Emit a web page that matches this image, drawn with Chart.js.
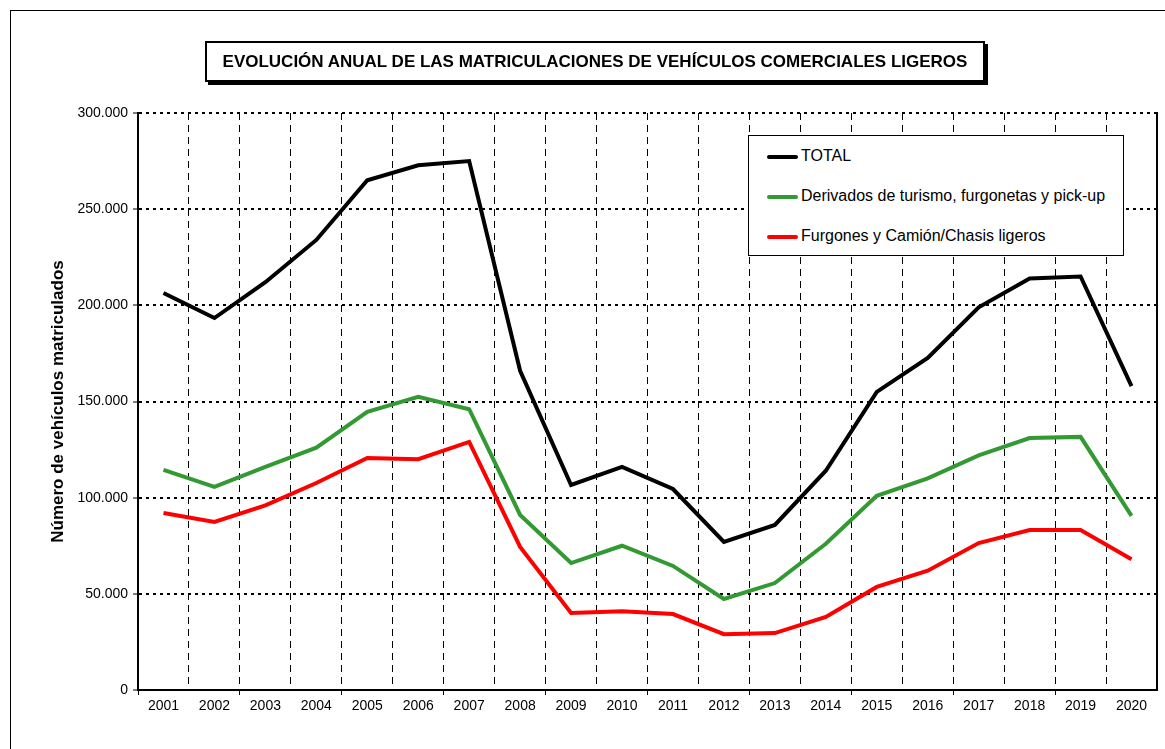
<!DOCTYPE html>
<html>
<head>
<meta charset="utf-8">
<script src="https://cdn.jsdelivr.net/npm/chart.js@4/dist/chart.umd.min.js"></script>
<style>
  body { margin: 0; background: #fff; overflow: hidden; font-family: Arial, "Liberation Sans", sans-serif; }
  #wrap { position: relative; width: 1165px; height: 749px; }
  #frame { position: absolute; left: 10px; top: 10px; width: 1170px; height: 760px; border: 1px solid #000; }
  #chart { position: absolute; left: 0; top: 0; }
  #title {
    position: absolute; left: 205px; top: 41px; width: 776px; height: 37px;
    border: 2px solid #000; box-shadow: 3px 3px 0 #000; background: #fff;
    font-weight: bold; font-size: 17px; line-height: 37px; text-align: center; color: #000;
    white-space: nowrap;
  }
  #legend {
    position: absolute; left: 748px; top: 135px; width: 374px; height: 119px;
    border: 1px solid #000; background: #fff;
  }
  .item { position: absolute; left: 18px; height: 20px; font-size: 16px; line-height: 20px; color: #000; white-space: nowrap; }
  .item span.swatch { display: inline-block; width: 31px; height: 4px; vertical-align: middle; margin-right: 3px; border-radius: 2px; }
</style>
</head>
<body>
<div id="wrap">
  <div id="frame"></div>
  <canvas id="chart" width="1165" height="749"></canvas>
  <div id="title">EVOLUCIÓN ANUAL DE LAS MATRICULACIONES DE VEHÍCULOS COMERCIALES LIGEROS</div>
  <div id="legend"></div>
</div>
<script>
const years = ['2001', '2002', '2003', '2004', '2005', '2006', '2007', '2008', '2009', '2010',
  '2011', '2012', '2013', '2014', '2015', '2016', '2017', '2018', '2019', '2020'];
const total = [206400, 193400, 212000, 234000, 265000, 272800, 275000, 166000, 106600, 116000,
  104500, 77000, 85800, 114000, 155000, 172600, 199000, 214000, 215000, 158000];
const derivados = [114400, 105600, 116000, 126000, 144600, 152400, 146000, 91000, 66000, 75000,
  64500, 47300, 55600, 76000, 101000, 110000, 122000, 131000, 131600, 90500];
const furgones = [92000, 87400, 96000, 107600, 120600, 120000, 129000, 74400, 40000, 41000,
  39500, 29000, 29600, 38000, 53600, 62000, 76400, 83200, 83200, 68000];
const yTicks = [0, 50000, 100000, 150000, 200000, 250000, 300000];

const series = [
  { label: 'TOTAL', data: total, color: '#000000' },
  { label: 'Derivados de turismo, furgonetas y pick-up', data: derivados, color: '#339933' },
  { label: 'Furgones y Camión/Chasis ligeros', data: furgones, color: '#ff0000' },
];

const legend = document.querySelector('#legend');
series.forEach((s, i) => {
  const item = document.createElement('div');
  item.className = 'item';
  item.style.top = (10 + i * 40) + 'px';
  item.innerHTML = `<span class="swatch" style="background:${s.color}"></span>${s.label}`;
  legend.appendChild(item);
});

const fmt = v => String(v).replace(/\B(?=(\d{3})+(?!\d))/g, '.');
const font = { family: 'Arial, "Liberation Sans", sans-serif', size: 14 };

new Chart(document.querySelector('#chart'), {
  type: 'line',
  data: {
    labels: years,
    datasets: series.map(s => ({
      label: s.label,
      data: s.data,
      borderColor: s.color,
      backgroundColor: s.color,
      borderWidth: 4,
      pointRadius: 0,
      tension: 0,
      borderJoinStyle: 'miter',
    })),
  },
  options: {
    responsive: false,
    animation: false,
    layout: { padding: { left: 0, top: 113, right: 8, bottom: 0 } },
    plugins: { legend: { display: false }, tooltip: { enabled: false } },
    scales: {
      x: {
        offset: true,
        grid: {
          offset: true,
          color: '#000',
          lineWidth: 1,
          tickLength: 5,
          tickColor: ctx => ctx.index % 2 === 0 ? '#000' : 'rgba(0,0,0,0)',
        },
        border: { display: true, color: '#000', width: 2, dash: [7, 5] },
        ticks: { color: '#000', font, padding: 3, maxRotation: 0, autoSkip: false },
        afterFit: scale => { scale.height = 59; },
      },
      y: {
        min: 0,
        max: 300000,
        afterBuildTicks: scale => { scale.ticks = yTicks.map(v => ({ value: v })); },
        grid: { color: '#000', lineWidth: 2, tickLength: 5, tickColor: '#000', tickWidth: 1 },
        border: { display: true, color: '#000', width: 2, dash: [3, 4] },
        ticks: { color: '#000', font, padding: 5, callback: v => fmt(v) },
        title: {
          display: true,
          text: 'Número de vehículos matriculados',
          color: '#000',
          font: { family: font.family, size: 17, weight: 'bold' },
          padding: { top: 48, bottom: 0 },
        },
        afterFit: scale => { scale.width = 138; },
      },
      y2: {
        position: 'right',
        min: 0,
        max: 300000,
        ticks: { display: false },
        grid: { display: false, drawTicks: false },
        border: { display: true, color: '#000', width: 2 },
        afterFit: scale => { scale.width = 0; },
      },
    },
  },
});
</script>
</body>
</html>
